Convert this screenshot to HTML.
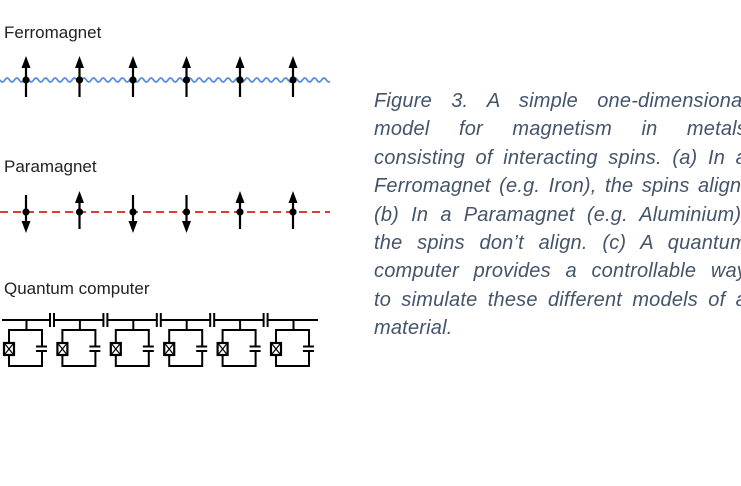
<!DOCTYPE html>
<html><head><meta charset="utf-8"><style>
html,body{margin:0;padding:0;background:#fff;width:741px;height:486px;overflow:hidden;position:relative}
.lbl{position:absolute;font-family:"Liberation Sans",sans-serif;font-size:17px;color:#222;left:4px}
.cap{position:absolute;left:374px;width:373px;font-family:"Liberation Sans",sans-serif;font-style:italic;font-size:20px;letter-spacing:0.2px;color:#44546a;white-space:nowrap}
.cap div{height:28.4px;line-height:28.4px;text-align:justify;text-align-last:justify;white-space:normal}
.cap div.l{text-align-last:left}
</style></head><body>
<div class="lbl" style="top:23px">Ferromagnet</div>
<div class="lbl" style="top:157px">Paramagnet</div>
<div class="lbl" style="top:279px">Quantum computer</div>
<svg id="s" width="741" height="486" style="position:absolute;left:0;top:0"></svg>
<div class="cap" style="top:87px">
<div>Figure 3. A simple one-dimensional</div>
<div>model for magnetism in metals</div>
<div>consisting of interacting spins. (a) In a</div>
<div>Ferromagnet (e.g. Iron), the spins align.</div>
<div>(b) In a Paramagnet (e.g. Aluminium),</div>
<div>the spins don’t align. (c) A quantum</div>
<div>computer provides a controllable way</div>
<div>to simulate these different models of a</div>
<div class="l">material.</div>
</div>
<script>
var s='';
var d='M0 80';
for(var x=0;x<=330;x+=1){d+=' L'+x+' '+(80+2*Math.sin(x*2*Math.PI/9.6)).toFixed(2);}
s+='<path d="'+d+'" fill="none" stroke="#5b8fd6" stroke-width="1.8"/>';
s+='<line x1="0" y1="212" x2="330" y2="212" stroke="#e03c31" stroke-width="2" stroke-dasharray="8,5"/>';
var xs=[26,79.5,133,186.5,240,293];
function arrow(x,yc,up){
 if(up){s+='<line x1="'+x+'" y1="'+(yc+17)+'" x2="'+x+'" y2="'+(yc-14)+'" stroke="#000" stroke-width="2.2"/>';
  s+='<polygon points="'+(x-4.5)+','+(yc-12)+' '+(x+4.5)+','+(yc-12)+' '+x+','+(yc-24)+'"/>';}
 else{s+='<line x1="'+x+'" y1="'+(yc-17)+'" x2="'+x+'" y2="'+(yc+14)+'" stroke="#000" stroke-width="2.2"/>';
  s+='<polygon points="'+(x-4.5)+','+(yc+12)+' '+(x+4.5)+','+(yc+12)+' '+x+','+(yc+24)+'"/>';}
 s+='<circle cx="'+x+'" cy="'+yc+'" r="3.6"/>';
}
xs.forEach(function(x){arrow(x,80,true);});
var pu=[false,true,false,false,true,true];
xs.forEach(function(x,i){
 if(pu[i]){s+='<line x1="'+x+'" y1="229" x2="'+x+'" y2="200" stroke="#000" stroke-width="2.2"/><polygon points="'+(x-4.5)+',203 '+(x+4.5)+',203 '+x+',191"/>';}
 else{s+='<line x1="'+x+'" y1="195" x2="'+x+'" y2="224" stroke="#000" stroke-width="2.2"/><polygon points="'+(x-4.5)+',221 '+(x+4.5)+',221 '+x+',233"/>';}
 s+='<circle cx="'+x+'" cy="212" r="3.6"/>';
});
var g='<g stroke="#000" stroke-width="2" fill="none">';
for(var i=0;i<5;i++){var cx=52+i*53.4;
 g+='<line x1="'+(cx-2)+'" y1="313" x2="'+(cx-2)+'" y2="327"/><line x1="'+(cx+2)+'" y1="313" x2="'+(cx+2)+'" y2="327"/>';}
var pts=[2];for(var i=0;i<5;i++){var cx=52+i*53.4;pts.push(cx-2,cx+2);}pts.push(318);
for(var i=0;i<pts.length;i+=2)g+='<line x1="'+pts[i]+'" y1="320" x2="'+pts[i+1]+'" y2="320"/>';
for(var i=0;i<6;i++){var o=i*53.4;var sx=26.5+o;
 g+='<line x1="'+sx+'" y1="320" x2="'+sx+'" y2="330"/>';
 g+='<polyline points="'+(9+o)+',342 '+(9+o)+',330 '+(42+o)+',330 '+(42+o)+',346"/>';
 g+='<polyline points="'+(9+o)+',355 '+(9+o)+',366 '+(42+o)+',366 '+(42+o)+',351"/>';
 g+='<line x1="'+(36+o)+'" y1="346.5" x2="'+(47+o)+'" y2="346.5"/><line x1="'+(36+o)+'" y1="351" x2="'+(47+o)+'" y2="351"/>';
 g+='<rect x="'+(4+o)+'" y="343" width="10" height="12" stroke-width="2.2"/>';
 g+='<line x1="'+(5+o)+'" y1="344" x2="'+(13+o)+'" y2="354" stroke-width="1.2"/><line x1="'+(13+o)+'" y1="344" x2="'+(5+o)+'" y2="354" stroke-width="1.2"/>';
}
g+='</g>';
s+=g;
document.getElementById('s').innerHTML=s;
</script>
</body></html>
